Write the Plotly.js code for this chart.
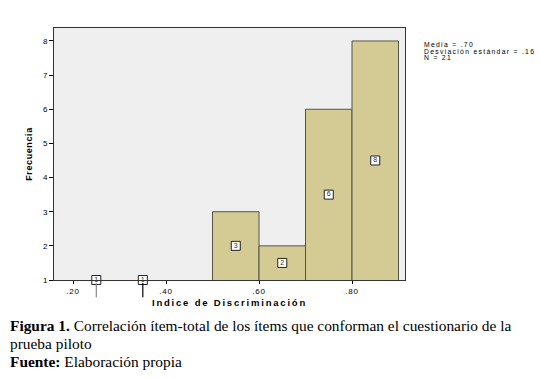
<!DOCTYPE html>
<html><head><meta charset="utf-8">
<script src="https://cdn.plot.ly/plotly-3.0.1.min.js"></script>
<style>
html,body{margin:0;padding:0;background:#fff;}
#wrap{position:relative;width:539px;height:378px;overflow:hidden;}
#chart{position:absolute;left:0;top:0;width:539px;height:378px;}
#chart .xtitle{letter-spacing:1.8px;}
#chart .ytitle{letter-spacing:0.6px;}
#chart .annotation-text{letter-spacing:1.3px;}
#chart .xtick text{letter-spacing:0.8px;}
#cap{position:absolute;left:10px;top:317px;width:528px;font-family:"Liberation Serif","Times New Roman",serif;font-size:15.4px;line-height:18px;color:#000;white-space:nowrap;}
</style></head>
<body>
<div id="wrap"><div id="chart"></div>
<div id="cap"><b>Figura 1.</b> Correlación ítem-total de los ítems que conforman el cuestionario de la<br>prueba piloto<br><b>Fuente:</b> Elaboración propia</div>
</div>
<script>
var binCenters = [0.25, 0.35, 0.55, 0.65, 0.75, 0.85];
var counts = [1, 1, 3, 2, 6, 8];
var binWidth = 0.1;
var xTickVals = [0.2, 0.4, 0.6, 0.8];
var xTickText = [".20", ".40", ".60", ".80"];
var yTickVals = [1, 2, 3, 4, 5, 6, 7, 8];
var stats = ["Media = .70", "Desviación estándar = .16", "N = 21"];

var labelY = counts.map(function(c){ return (1 + c) / 2; });

var bars = {
  type: 'bar', x: binCenters, y: counts, width: binWidth, base: 0,
  marker: {color: '#d4cb94', line: {color: '#555548', width: counts.map(function(c){ return c > 1 ? 1 : 0; })}},
  hoverinfo: 'skip'
};
var labels = {
  type: 'scatter', mode: 'markers+text', x: binCenters, y: labelY,
  text: counts.map(String), textposition: 'middle center',
  textfont: {family: 'Liberation Sans, Arial', size: 7, color: '#333'},
  marker: {symbol: 'square', size: 9, color: '#ffffff', line: {color: '#222', width: 1}},
  cliponaxis: false, hoverinfo: 'skip'
};

var shapes = [];
binCenters.forEach(function(c, i){
  if (counts[i] <= 1) {
    shapes.push({type: 'line', xref: 'x', yref: 'paper', x0: c, x1: c, y0: -0.012, y1: -0.068,
      line: {color: i === 0 ? '#888' : '#000', width: 1.2}});
  }
});

var annotations = stats.map(function(s, i){
  return {
    xref: 'paper', yref: 'paper', x: 1.05, y: 0.935 - i * 0.0265, xanchor: 'left', yanchor: 'middle',
    text: s, showarrow: false, align: 'left', borderpad: 0,
    font: {size: 6.8, family: 'Liberation Sans, Arial', color: '#000'}
  };
});

var layout = {
  width: 539, height: 378,
  margin: {l: 54, r: 134, t: 28, b: 98},
  paper_bgcolor: '#ffffff', plot_bgcolor: '#efefef',
  showlegend: false,
  bargap: 0,
  font: {family: 'Liberation Sans, Arial', size: 8, color: '#000'},
  xaxis: {
    range: [0.159, 0.914], tickvals: xTickVals, ticktext: xTickText,
    ticks: 'outside', ticklen: 3, tickcolor: '#000', showgrid: false, zeroline: false,
    showline: true, linecolor: '#333', linewidth: 1, mirror: true,
    tickfont: {size: 8, family: 'Liberation Sans, Arial'},
    title: {text: '<b>Indice de Discriminación</b>', font: {size: 9.5, family: 'Liberation Sans, Arial'}, standoff: 4}
  },
  yaxis: {
    range: [1, 8.38], tickvals: yTickVals,
    ticks: 'outside', ticklen: 4, tickcolor: '#000', showgrid: false, zeroline: false,
    showline: true, linecolor: '#333', linewidth: 1, mirror: true,
    tickfont: {size: 8, family: 'Liberation Sans, Arial'},
    title: {text: '<b>Frecuencia</b>', font: {size: 9, family: 'Liberation Sans, Arial'}, standoff: 8}
  },
  shapes: shapes,
  annotations: annotations
};
Plotly.newPlot('chart', [bars, labels], layout, {displayModeBar: false, staticPlot: true});
</script>
</body></html>
